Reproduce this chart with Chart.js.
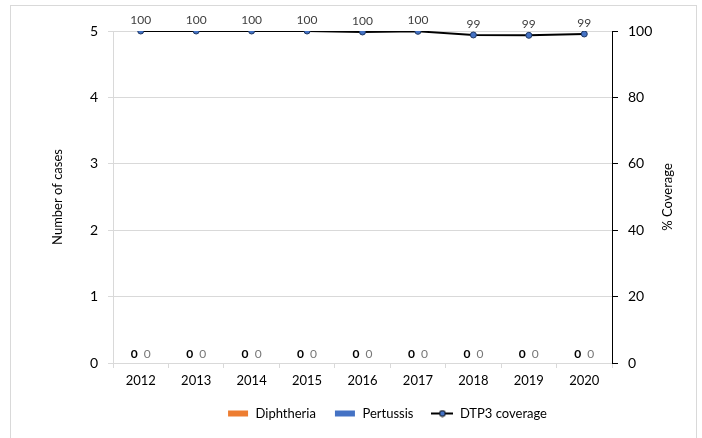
<!DOCTYPE html>
<html>
<head>
<meta charset="utf-8">
<script src="https://cdn.jsdelivr.net/npm/chart.js@4"></script>
<style>
  html, body { margin: 0; padding: 0; background: #fff; }
  #wrap { width: 702px; height: 438px; position: relative; }
</style>
</head>
<body>
<div id="wrap"><canvas id="myChart" width="702" height="438"></canvas></div>
<script>
const years = ["2012", "2013", "2014", "2015", "2016", "2017", "2018", "2019", "2020"];
const diphtheria = [0, 0, 0, 0, 0, 0, 0, 0, 0];
const pertussis = [0, 0, 0, 0, 0, 0, 0, 0, 0];
const coverage = [100, 100, 100, 100, 99.7, 99.9, 98.8, 98.7, 99.1];
const casesTicks = [0, 1, 2, 3, 4, 5];
const coverageTicks = [0, 20, 40, 60, 80, 100];

const FONT = "Lato, 'Open Sans', sans-serif";
Chart.defaults.font.family = FONT;
Chart.defaults.color = "#000";

// legend swatches
function swatch(kind, color) {
  const c = document.createElement("canvas");
  c.width = 22; c.height = 8;
  const g = c.getContext("2d");
  if (kind === "bar") {
    g.fillStyle = color;
    g.fillRect(1, 1, 20, 6);
  } else {
    g.strokeStyle = "#000";
    g.lineWidth = 2;
    g.beginPath(); g.moveTo(0, 4); g.lineTo(22, 4); g.stroke();
    g.fillStyle = "#4472C4";
    g.beginPath(); g.arc(11, 4, 3, 0, Math.PI * 2); g.fill();
    g.lineWidth = 1; g.stroke();
  }
  return c;
}

const frame = {
  id: "frame",
  afterLayout(chart) {
    // legend sits a little right of centre in the original
    chart.legend.left += 35;
    chart.legend.right += 35;
  },
  beforeDraw(chart) {
    const g = chart.ctx;
    g.save();
    g.strokeStyle = "#d9d9d9";
    g.lineWidth = 1;
    g.strokeRect(10.5, 5.5, 686, 450);
    g.restore();
  },
  afterDraw(chart) {
    // right axis title, read bottom to top like the left one
    const s = chart.scales.y1;
    const g = chart.ctx;
    g.save();
    g.translate(668, (s.top + s.bottom) / 2);
    g.rotate(-Math.PI / 2);
    g.font = "13px " + FONT;
    g.fillStyle = "#000";
    g.textAlign = "center";
    g.textBaseline = "middle";
    g.fillText("% Coverage", 0, 0);
    g.restore();
  }
};

const labels = {
  id: "labels",
  afterDatasetsDraw(chart) {
    const g = chart.ctx;
    g.save();
    g.textAlign = "center";
    g.textBaseline = "bottom";
    chart.data.datasets.forEach((ds, i) => {
      const meta = chart.getDatasetMeta(i);
      meta.data.forEach((el, j) => {
        const v = ds.data[j];
        if (ds.type === "line") {
          g.font = "12px " + FONT;
          g.fillStyle = "#404040";
          g.fillText(Math.round(v), el.x, el.y - 5);
        } else {
          g.fillStyle = i === 1 ? "#000" : "#777";
          g.font = (i === 1 ? "bold " : "") + "12px " + FONT;
          g.fillText(v, el.x, el.y - 3);
        }
      });
    });
    g.restore();
  }
};

new Chart(document.getElementById("myChart"), {
  data: {
    labels: years,
    datasets: [
      {
        type: "line",
        label: "DTP3 coverage",
        data: coverage,
        yAxisID: "y1",
        borderColor: "#000",
        borderWidth: 2,
        backgroundColor: "#4472C4",
        pointBorderColor: "#1f3864",
        pointBorderWidth: 1,
        radius: 3,
        order: 0,
      },
      {
        type: "bar",
        label: "Diphtheria",
        data: diphtheria,
        yAxisID: "y",
        backgroundColor: "#ED7D31",
        categoryPercentage: 0.47,
        barPercentage: 1,
        order: 1,
      },
      {
        type: "bar",
        label: "Pertussis",
        data: pertussis,
        yAxisID: "y",
        backgroundColor: "#4472C4",
        categoryPercentage: 0.47,
        barPercentage: 1,
        order: 1,
      },
    ],
  },
  options: {
    responsive: false,
    animation: false,
    layout: { padding: { left: 10, right: 8, top: 31, bottom: 8 } },
    plugins: {
      tooltip: { enabled: false },
      legend: {
        position: "bottom",
        labels: {
          usePointStyle: true,
          pointStyleWidth: 22,
          font: { size: 13 },
          color: "#000",
          padding: 18,
          generateLabels(chart) {
            const ds = chart.data.datasets;
            return [1, 2, 0].map(i => ({
              text: ds[i].label,
              datasetIndex: i,
              pointStyle: i === 0 ? swatch("line") : swatch("bar", ds[i].backgroundColor),
              lineWidth: 0,
              strokeStyle: "transparent",
              fillStyle: "transparent",
            }));
          },
        },
      },
    },
    scales: {
      x: {
        grid: { offset: true, drawOnChartArea: false, color: "#d9d9d9", tickLength: 5 },
        border: { color: "#d9d9d9" },
        ticks: { font: { size: 13 }, color: "#000", padding: 5 },
        afterFit(s) { s.height = 26; },
      },
      y: {
        position: "left",
        min: 0, max: 5,
        afterBuildTicks(s) { s.ticks = casesTicks.map(v => ({ value: v })); },
        grid: { color: "#d9d9d9", tickLength: 5 },
        border: { color: "#d9d9d9" },
        ticks: { font: { size: 14 }, color: "#000", padding: 10 },
        title: { display: true, text: "Number of cases", font: { size: 13 }, color: "#000", padding: { top: 40, bottom: 0 } },
        afterFit(s) { s.width = 103; },
      },
      y1: {
        position: "right",
        min: 0, max: 100,
        afterBuildTicks(s) { s.ticks = coverageTicks.map(v => ({ value: v })); },
        grid: { drawOnChartArea: false, color: "#000", tickLength: 6 },
        border: { color: "#000" },
        ticks: { font: { size: 14 }, color: "#000", padding: 10 },
        afterFit(s) { s.width = 82; },
      },
    },
  },
  plugins: [frame, labels],
});
</script>
</body>
</html>
